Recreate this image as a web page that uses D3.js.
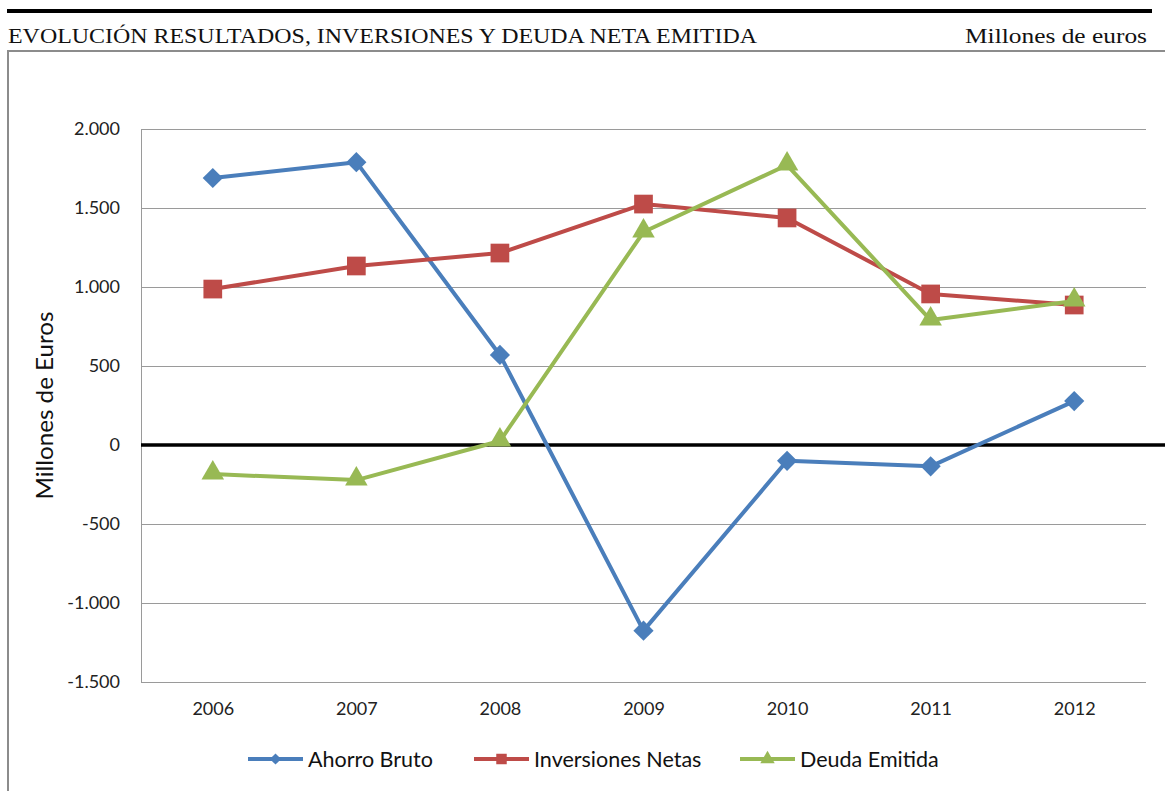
<!DOCTYPE html>
<html>
<head>
<meta charset="utf-8">
<script src="https://cdn.jsdelivr.net/npm/d3@7"></script>
<style>
  body { margin: 0; background: #fff; }
  svg { display: block; }
</style>
</head>
<body>
<div id="chart"></div>
<script>
// Data (millones de euros)
var years = ["2006", "2007", "2008", "2009", "2010", "2011", "2012"];
var ahorroBruto = [1690, 1790, 570, -1175, -100, -135, 278];
var inversionesNetas = [987, 1133, 1215, 1525, 1437, 956, 886];
var deudaEmitida = [-184, -222, 25, 1348, 1772, 791, 911];
var yTicks = [-1500, -1000, -500, 0, 500, 1000, 1500, 2000];
var seriesNames = ["Ahorro Bruto", "Inversiones Netas", "Deuda Emitida"];
var seriesColors = ["#4a7ebb", "#be4b48", "#98b954"];
var seriesMarkers = [d3.symbolDiamond2, d3.symbolSquare, d3.symbolTriangle];

var svgWidth = 1165;
var svgHeight = 791;

// plot area
var plot = {left: 141, right: 1146, top: 129, bottom: 682};

var svg = d3.select("#chart")
  .append("svg")
  .attr("width", svgWidth)
  .attr("height", svgHeight);

// Header
svg.append("line")
  .attr("x1", 7).attr("x2", 1152)
  .attr("y1", 11).attr("y2", 11)
  .attr("stroke", "#000").attr("stroke-width", 4);

svg.append("text")
  .attr("x", 8).attr("y", 43)
  .attr("textLength", 749)
  .attr("lengthAdjust", "spacingAndGlyphs")
  .style("font-family", "'Liberation Serif', serif")
  .style("font-size", "22px")
  .style("fill", "#111")
  .text("EVOLUCIÓN RESULTADOS, INVERSIONES Y DEUDA NETA EMITIDA");

svg.append("text")
  .attr("x", 1147).attr("y", 43)
  .attr("text-anchor", "end")
  .attr("textLength", 182)
  .attr("lengthAdjust", "spacingAndGlyphs")
  .style("font-family", "'Liberation Serif', serif")
  .style("font-size", "22px")
  .style("fill", "#111")
  .text("Millones de euros");

// frame of the chart
svg.append("path")
  .attr("d", "M8,791 V51 H1165")
  .attr("fill", "none")
  .attr("stroke", "#8c8c8c")
  .attr("stroke-width", 2);

// scales
var xScale = d3.scalePoint()
  .domain(years)
  .range([plot.left, plot.right])
  .padding(0.5);

var yScale = d3.scaleLinear()
  .domain([-1500, 2000])
  .range([plot.bottom, plot.top]);

var esLocale = d3.formatLocale({decimal: ",", thousands: ".", grouping: [3], currency: ["", " €"], minus: "-"});
var fmt = esLocale.format(",.0f");

var chart_group = svg.append("g");

// gridlines
chart_group.append("g")
  .selectAll("line")
  .data(yTicks)
  .enter()
  .append("line")
  .attr("x1", plot.left).attr("x2", plot.right)
  .attr("y1", d => Math.round(yScale(d)) + 0.5)
  .attr("y2", d => Math.round(yScale(d)) + 0.5)
  .attr("stroke", "#9a9a9a")
  .attr("stroke-width", 1);

// y axis
var yAxis = d3.axisLeft(yScale)
  .tickValues(yTicks)
  .tickFormat(fmt)
  .tickSize(0)
  .tickPadding(21);

var yG = chart_group.append("g")
  .attr("transform", `translate(${plot.left}, 0)`)
  .call(yAxis);
yG.select(".domain").attr("stroke", "#9a9a9a");
yG.selectAll("text")
  .style("font-family", "Lato, 'Open Sans', sans-serif")
  .style("font-size", "18px")
  .style("fill", "#222");

// x axis labels
var xAxis = d3.axisBottom(xScale).tickSize(0).tickPadding(20);
var xG = chart_group.append("g")
  .attr("transform", `translate(0, ${plot.bottom})`)
  .call(xAxis);
xG.select(".domain").remove();
xG.selectAll("text")
  .style("font-family", "Lato, 'Open Sans', sans-serif")
  .style("font-size", "18px")
  .style("fill", "#222");

// zero line
chart_group.append("line")
  .attr("x1", plot.left).attr("x2", svgWidth)
  .attr("y1", yScale(0)).attr("y2", yScale(0))
  .attr("stroke", "#000")
  .attr("stroke-width", 3.5);

// y axis title
chart_group.append("text")
  .attr("transform", `translate(53, ${(plot.top + plot.bottom) / 2}) rotate(-90)`)
  .attr("text-anchor", "middle")
  .attr("textLength", 188)
  .attr("lengthAdjust", "spacingAndGlyphs")
  .style("font-family", "Lato, 'Open Sans', sans-serif")
  .style("font-size", "23px")
  .style("fill", "#111")
  .text("Millones de Euros");

// series
var allSeries = [ahorroBruto, inversionesNetas, deudaEmitida];
var line = d3.line()
  .x((d, i) => xScale(years[i]))
  .y(d => yScale(d));

var markerSizes = [260, 350, 220];

allSeries.forEach(function(values, s) {
  var g = chart_group.append("g");
  g.append("path")
    .datum(values)
    .attr("d", line)
    .attr("fill", "none")
    .attr("stroke", seriesColors[s])
    .attr("stroke-width", 4)
    .attr("stroke-linejoin", "round");

  g.selectAll("path.marker")
    .data(values)
    .enter()
    .append("path")
    .attr("class", "marker")
    .attr("d", d3.symbol().type(seriesMarkers[s]).size(markerSizes[s]))
    .attr("transform", (d, i) => `translate(${xScale(years[i])}, ${yScale(d) + (s === 2 ? -1 : 0)})`)
    .attr("fill", seriesColors[s]);
});

// legend
var legendX = [248, 474, 740];
var legendY = 759;
var legend = svg.append("g");
seriesNames.forEach(function(name, s) {
  var lg = legend.append("g").attr("transform", `translate(${legendX[s]}, ${legendY})`);
  lg.append("line")
    .attr("x1", 0).attr("x2", 55)
    .attr("y1", 0).attr("y2", 0)
    .attr("stroke", seriesColors[s])
    .attr("stroke-width", 4);
  lg.append("path")
    .attr("d", d3.symbol().type(seriesMarkers[s]).size([80, 110, 90][s]))
    .attr("transform", "translate(27.5, 0)")
    .attr("fill", seriesColors[s]);
  lg.append("text")
    .attr("x", 60).attr("y", 0)
    .attr("dy", "0.35em")
    .style("font-family", "Lato, 'Open Sans', sans-serif")
    .style("font-size", "21.5px")
    .style("fill", "#111")
    .text(name);
});
</script>
</body>
</html>
